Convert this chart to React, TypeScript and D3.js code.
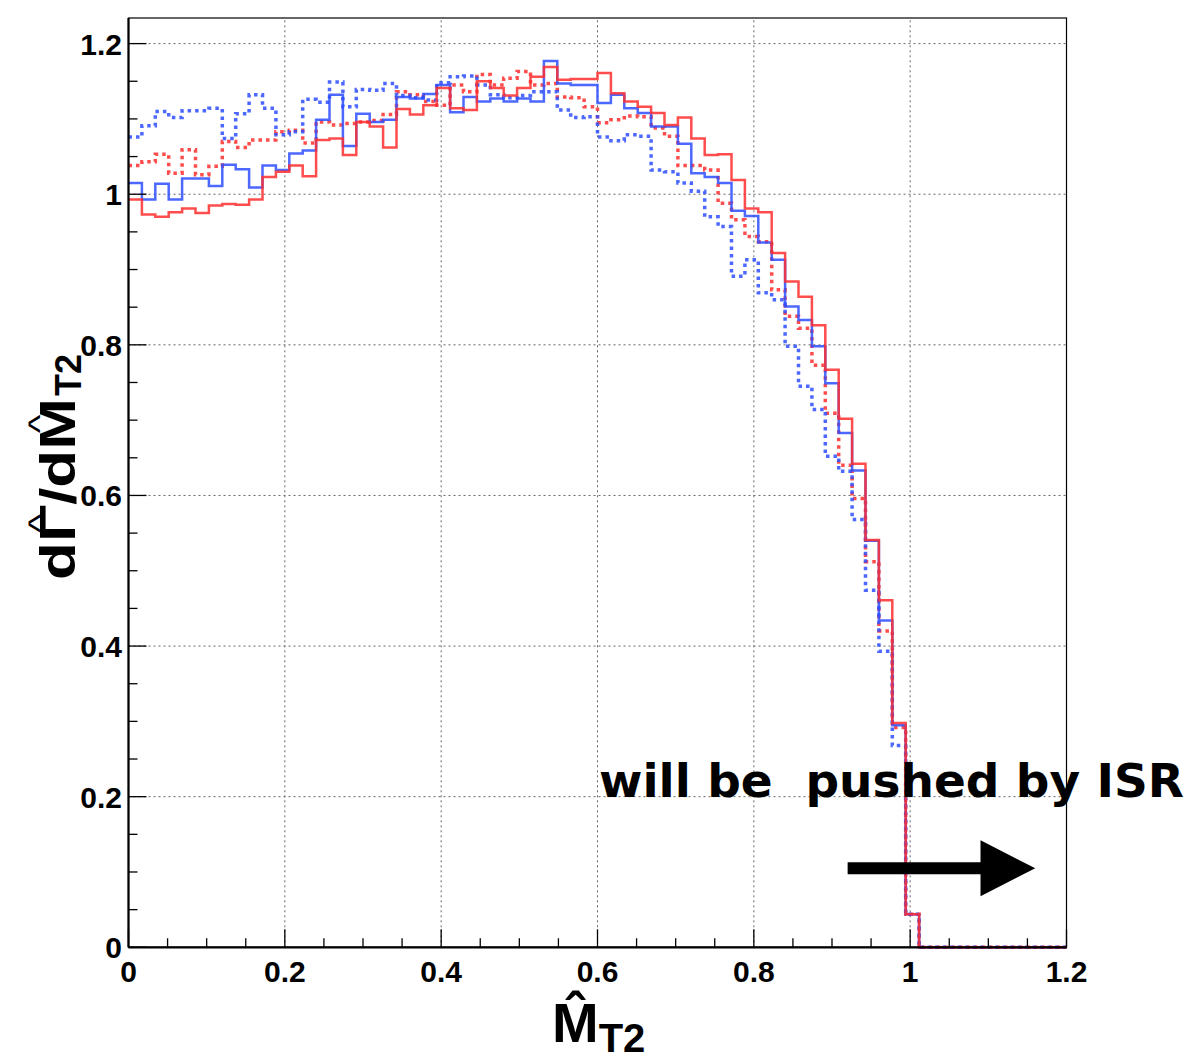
import React, { useEffect, useRef } from 'react';
import * as d3 from 'd3';

// 70 bins between 0 and 1.2
const xMin = 0, xMax = 1.2, nBins = 70;
const yMax = 1.234;

const majorTicks = [0, 0.2, 0.4, 0.6, 0.8, 1, 1.2];
const tickLabels = ['0', '0.2', '0.4', '0.6', '0.8', '1', '1.2'];

const blueSolid = [
  1.015, 0.993, 1.014, 0.993, 1.021, 1.021, 1.011, 1.039, 1.033, 1.009,
  1.038, 1.032, 1.054, 1.058, 1.099, 1.132, 1.064, 1.107, 1.096, 1.099,
  1.129, 1.127, 1.133, 1.145, 1.109, 1.129, 1.123, 1.127, 1.123, 1.127,
  1.123, 1.177, 1.147, 1.145, 1.145, 1.121, 1.132, 1.114, 1.108, 1.090,
  1.090, 1.067, 1.028, 1.023, 1.015, 0.978, 0.971, 0.936, 0.913, 0.851,
  0.833, 0.798, 0.749, 0.683, 0.633, 0.540, 0.434, 0.295, 0.044, 0,
  0, 0, 0, 0, 0, 0, 0, 0, 0, 0,
];

const redSolid = [
  0.993, 0.973, 0.970, 0.976, 0.981, 0.975, 0.985, 0.987, 0.986, 0.993,
  1.023, 1.030, 1.038, 1.024, 1.072, 1.074, 1.052, 1.096, 1.090, 1.062,
  1.113, 1.106, 1.118, 1.141, 1.114, 1.112, 1.150, 1.141, 1.131, 1.141,
  1.156, 1.169, 1.152, 1.153, 1.153, 1.161, 1.134, 1.123, 1.116, 1.108,
  1.092, 1.102, 1.074, 1.052, 1.053, 1.019, 0.981, 0.976, 0.922, 0.884,
  0.864, 0.826, 0.767, 0.702, 0.642, 0.541, 0.461, 0.298, 0.044, 0,
  0, 0, 0, 0, 0, 0, 0, 0, 0, 0,
];

const blueDotted = [
  1.076, 1.091, 1.110, 1.102, 1.111, 1.111, 1.114, 1.074, 1.107, 1.132,
  1.114, 1.079, 1.083, 1.126, 1.122, 1.149, 1.116, 1.139, 1.138, 1.147,
  1.131, 1.128, 1.125, 1.148, 1.156, 1.157, 1.145, 1.132, 1.128, 1.131,
  1.136, 1.136, 1.112, 1.102, 1.103, 1.076, 1.071, 1.079, 1.077, 1.032,
  1.030, 1.015, 1.004, 0.970, 0.957, 0.891, 0.913, 0.869, 0.860, 0.798,
  0.745, 0.714, 0.652, 0.632, 0.568, 0.474, 0.393, 0.268, 0.044, 0,
  0, 0, 0, 0, 0, 0, 0, 0, 0, 0,
];

const redDotted = [
  1.038, 1.043, 1.053, 1.028, 1.059, 1.026, 1.037, 1.070, 1.062, 1.072,
  1.072, 1.083, 1.085, 1.068, 1.096, 1.092, 1.094, 1.096, 1.098, 1.106,
  1.136, 1.132, 1.123, 1.118, 1.145, 1.136, 1.159, 1.145, 1.154, 1.163,
  1.145, 1.147, 1.129, 1.128, 1.116, 1.095, 1.099, 1.104, 1.103, 1.088,
  1.077, 1.038, 1.038, 1.032, 0.988, 0.966, 0.944, 0.937, 0.873, 0.838,
  0.822, 0.773, 0.709, 0.640, 0.596, 0.512, 0.420, 0.292, 0.044, 0,
  0, 0, 0, 0, 0, 0, 0, 0, 0, 0,
];

const BLUE = '#2d4dff';
const RED = '#ff2e2e';

export default function App() {
  const ref = useRef<SVGSVGElement>(null);

  useEffect(() => {
    const svg = d3.select(ref.current);
    svg.selectAll('*').remove();

    const x = d3.scaleLinear().domain([xMin, xMax]).range([128.5, 1066.5]);
    const y = d3.scaleLinear().domain([0, yMax]).range([947.3, 18]);
    const binW = (xMax - xMin) / nBins;

    // grid
    const grid = svg.append('g').attr('stroke', '#666').attr('stroke-width', 1)
      .attr('stroke-dasharray', '2 3');
    majorTicks.filter(t => t > 0 && t < xMax).forEach(t => {
      grid.append('line').attr('x1', x(t)).attr('x2', x(t)).attr('y1', y(0)).attr('y2', y(yMax));
    });
    majorTicks.filter(t => t > 0).forEach(t => {
      grid.append('line').attr('x1', x(0)).attr('x2', x(xMax)).attr('y1', y(t)).attr('y2', y(t));
    });

    // histograms
    const line = d3.line<number>()
      .x((d, i) => x(xMin + i * binW))
      .y(d => y(d))
      .curve(d3.curveStepAfter);
    const draw = (vals: number[], color: string, dotted: boolean) => {
      const pts = vals.concat([vals[vals.length - 1]]);
      svg.append('path')
        .attr('d', line(pts))
        .attr('fill', 'none')
        .attr('stroke', color)
        .attr('stroke-width', dotted ? 3.5 : 2.5)
        .attr('stroke-opacity', 0.85)
        .attr('stroke-dasharray', dotted ? '3.5 4' : null);
    };
    draw(redDotted, RED, true);
    draw(blueDotted, BLUE, true);
    draw(blueSolid, BLUE, false);
    draw(redSolid, RED, false);

    // frame
    svg.append('rect')
      .attr('x', x(0)).attr('y', y(yMax))
      .attr('width', x(xMax) - x(0)).attr('height', y(0) - y(yMax))
      .attr('fill', 'none').attr('stroke', '#000').attr('stroke-width', 1.2);
    svg.append('line').attr('x1', x(0)).attr('x2', x(xMax)).attr('y1', y(0)).attr('y2', y(0))
      .attr('stroke', '#000').attr('stroke-width', 2.2);
    svg.append('line').attr('x1', x(0)).attr('x2', x(0)).attr('y1', y(0)).attr('y2', y(yMax))
      .attr('stroke', '#000').attr('stroke-width', 2.2);

    // ticks (inward)
    const ticks = svg.append('g').attr('stroke', '#000').attr('stroke-width', 1.3);
    const minor = d3.range(0, 24.5).map(i => i * 0.05);
    minor.forEach(t => {
      const isMajor = Math.abs(Math.round(t / 0.2) * 0.2 - t) < 1e-6;
      const len = isMajor ? 18 : 9;
      ticks.append('line').attr('x1', x(t)).attr('x2', x(t)).attr('y1', y(0)).attr('y2', y(0) - len);
      ticks.append('line').attr('x1', x(0)).attr('x2', x(0) + len).attr('y1', y(t)).attr('y2', y(t));
    });

    // tick labels
    const font = '"Liberation Sans", Arial, sans-serif';
    majorTicks.forEach((t, i) => {
      svg.append('text')
        .attr('x', x(t)).attr('y', 982)
        .attr('text-anchor', 'middle')
        .attr('font-family', font).attr('font-weight', 'bold').attr('font-size', 30)
        .text(tickLabels[i]);
      svg.append('text')
        .attr('x', 122).attr('y', y(t) + 11)
        .attr('text-anchor', 'end')
        .attr('font-family', font).attr('font-weight', 'bold').attr('font-size', 30)
        .text(tickLabels[i]);
    });

    // x title
    const xt = svg.append('text')
      .attr('x', 552).attr('y', 1042)
      .attr('font-family', font).attr('font-weight', 'bold').attr('font-size', 56);
    xt.append('tspan').text('M\u0302');
    xt.append('tspan').attr('font-size', 40).attr('dy', 10).text('T2');

    // y title, built piece by piece so the hats sit over Gamma and M
    const yg = svg.append('g').attr('transform', 'translate(75,580) rotate(-90)');
    const main = yg.append('g').attr('transform', 'scale(1.24,1)')
      .attr('font-family', font).attr('font-weight', 'bold').attr('font-size', 50);
    let cx = 0;
    const pieces = ['d', '\u0393', '/d', 'M'];
    pieces.forEach(p => {
      const t = main.append('text').attr('x', cx).attr('y', 0).text(p);
      const w = (t.node() as SVGTextElement).getComputedTextLength();
      if (p === '\u0393' || p === 'M') {
        main.append('text')
          .attr('x', cx + w / 2).attr('y', -25)
          .attr('text-anchor', 'middle')
          .attr('font-weight', 'normal').attr('font-size', 32)
          .text('^');
      }
      cx += w;
    });
    yg.append('text')
      .attr('x', cx * 1.24 + 2).attr('y', 6)
      .attr('font-family', font).attr('font-weight', 'bold').attr('font-size', 36)
      .text('T2');

    // annotation
    svg.append('text')
      .attr('x', x(0.602)).attr('y', y(0.2))
      .attr('font-family', '"DejaVu Sans", sans-serif').attr('font-weight', 'bold')
      .attr('font-size', 47)
      .style('white-space', 'pre')
      .text('will be  pushed by ISR');

    const ay = y(0.105);
    svg.append('line')
      .attr('x1', x(0.92)).attr('x2', x(1.1)).attr('y1', ay).attr('y2', ay)
      .attr('stroke', '#000').attr('stroke-width', 12);
    svg.append('path')
      .attr('d', `M${x(1.09)},${ay - 28} L${x(1.16)},${ay} L${x(1.09)},${ay + 28} Z`)
      .attr('fill', '#000');
  }, []);

  return (
    <svg ref={ref} width={1193} height={1060}
      style={{ position: 'absolute', left: 0, top: 0, background: '#fff' }} />
  );
}
